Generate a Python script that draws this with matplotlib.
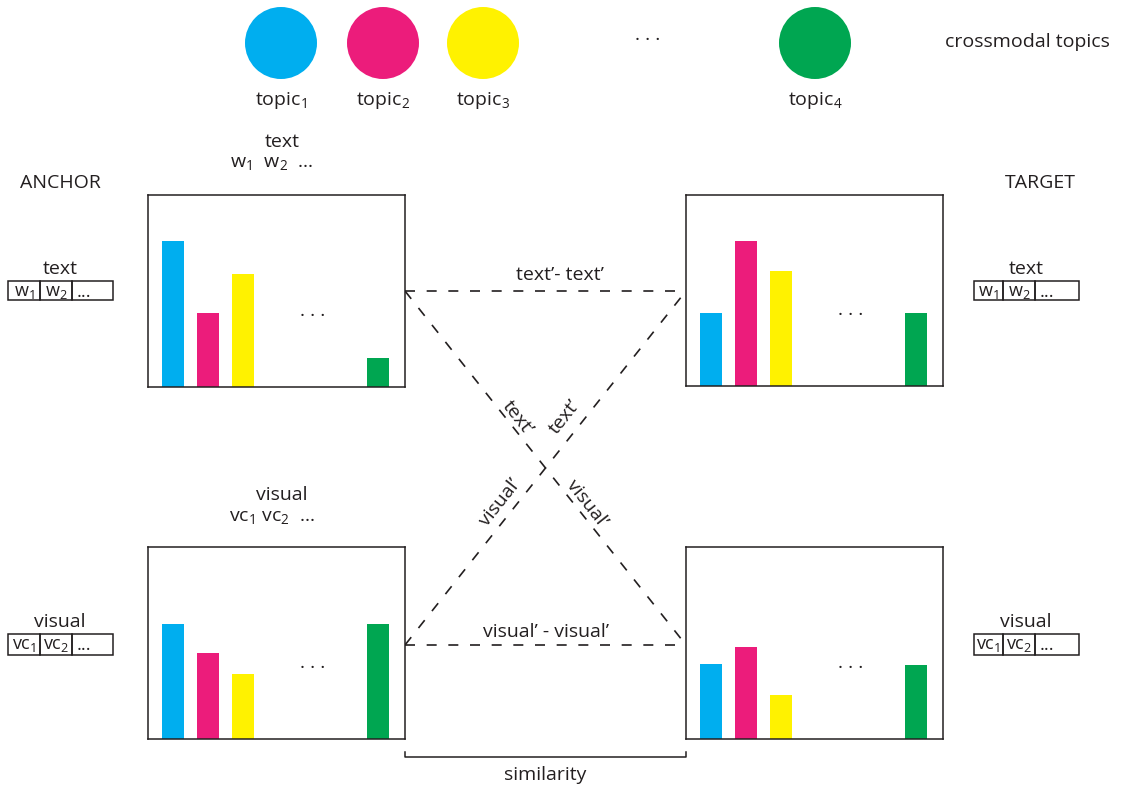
import matplotlib
matplotlib.use('Agg')
import matplotlib.pyplot as plt
from matplotlib.patches import Rectangle, Circle

plt.rcParams['font.family'] = ['Open Sans', 'DejaVu Sans']
plt.rcParams['mathtext.fontset'] = 'custom'
plt.rcParams['mathtext.rm'] = 'Open Sans'
plt.rcParams['text.color'] = '#231F20'

# topic colours and labels
topic_colors = ['#00AEEF', '#EC1C7B', '#FFF200', '#00A651']
topic_labels = [r'topic$\mathregular{_1}$', r'topic$\mathregular{_2}$',
                r'topic$\mathregular{_3}$', r'topic$\mathregular{_4}$']

# topic distributions (fraction of panel height)
anchor_text = [0.76, 0.385, 0.59, 0.15]
target_text = [0.38, 0.76, 0.60, 0.38]
anchor_visual = [0.60, 0.45, 0.34, 0.60]
target_visual = [0.39, 0.48, 0.23, 0.385]

W, H = 1121, 789
fig = plt.figure(figsize=(W / 100, H / 100), dpi=100)
ax = fig.add_axes([0, 0, 1, 1])
ax.set_xlim(0, W)
ax.set_ylim(H, 0)
ax.axis('off')

FS = 14
LW = 1.1
INK = '#231F20'


def panel(x0, y0, x1, y1, vals):
    a = fig.add_axes([x0 / W, 1 - y1 / H, (x1 - x0) / W, (y1 - y0) / H])
    a.bar([0, 1.02, 2.05, 6], vals, width=0.64, color=topic_colors)
    a.set_xlim(-0.73, 6.79)
    a.set_ylim(0, 1)
    a.set_xticks([])
    a.set_yticks([])
    for s in a.spines.values():
        s.set_linewidth(LW)
        s.set_color(INK)
    a.text(4.1, 0.37, '· · ·', ha='center', va='center', fontsize=FS)


panel(148, 195, 405, 387, anchor_text)
panel(686, 195, 943, 386, target_text)
panel(148, 547, 405, 739, anchor_visual)
panel(686, 547, 943, 739, target_visual)

# topic circles
for cx, col, lab in zip([281, 383, 483, 815], topic_colors, topic_labels):
    ax.add_patch(Circle((cx, 43), 36, color=col, lw=0))
    ax.text(cx, 100, lab, ha='center', va='center', fontsize=FS)
ax.text(648, 40, '· · ·', ha='center', va='center', fontsize=FS)
ax.text(1027, 42, 'crossmodal topics', ha='center', va='center', fontsize=FS)

ax.text(60, 183, 'ANCHOR', ha='center', va='center', fontsize=FS)
ax.text(1040, 183, 'TARGET', ha='center', va='center', fontsize=FS)

ax.text(282, 142, 'text', ha='center', va='center', fontsize=FS)
ax.text(272, 163, r'w$\mathregular{_1}$  w$\mathregular{_2}$  ...', ha='center', va='center', fontsize=FS)
ax.text(282, 495, 'visual', ha='center', va='center', fontsize=FS)
ax.text(272, 517, r'vc$\mathregular{_1}$ vc$\mathregular{_2}$  ...', ha='center', va='center', fontsize=FS)


def cells(x_edges, y0, y1, labels, title, tx):
    ax.text(tx, y0 - 12, title, ha='center', va='center', fontsize=FS)
    for i in range(3):
        ax.add_patch(Rectangle((x_edges[i], y0), x_edges[i + 1] - x_edges[i], y1 - y0,
                               fill=False, lw=LW, ec=INK))
        xs = (x_edges[i] + x_edges[i + 1]) / 2 if i < 2 else x_edges[i] + 12
        ax.text(xs, (y0 + y1) / 2 + 1, labels[i], ha='center', va='center', fontsize=FS - 1)


w_lab = [r'w$\mathregular{_1}$', r'w$\mathregular{_2}$', '...']
vc_lab = [r'vc$\mathregular{_1}$', r'vc$\mathregular{_2}$', '...']
cells([8, 40, 72, 113], 281, 300, w_lab, 'text', 60)
cells([974, 1003, 1035, 1079], 281, 300, w_lab, 'text', 1026)
cells([8, 40, 72, 113], 634, 655, vc_lab, 'visual', 60)
cells([974, 1003, 1035, 1079], 634, 655, vc_lab, 'visual', 1026)

# dashed connections
ls = (0, (6, 7))
dl = 1.2
ax.plot([405, 686], [291, 291], color=INK, lw=dl, ls=ls)
ax.plot([405, 686], [645, 645], color=INK, lw=dl, ls=ls)
ax.plot([405, 686], [291, 645], color=INK, lw=dl, ls=ls)
ax.plot([405, 686], [645, 291], color=INK, lw=dl, ls=ls)

ax.text(560, 275, 'text\u2019- text\u2019', ha='center', va='center', fontsize=FS)
ax.text(546, 632, 'visual\u2019 - visual\u2019', ha='center', va='center', fontsize=FS)
ax.text(518, 418, 'text\u2019', ha='center', va='center', fontsize=FS, rotation=-51.6)
ax.text(565, 417, 'text\u2019', ha='center', va='center', fontsize=FS, rotation=51.6)
ax.text(500, 502, 'visual\u2019', ha='center', va='center', fontsize=FS, rotation=51.6)
ax.text(587, 503, 'visual\u2019', ha='center', va='center', fontsize=FS, rotation=-51.6)

# similarity bracket
ax.plot([405, 405, 686, 686], [752, 757, 757, 752], color=INK, lw=LW)
ax.text(545, 775, 'similarity', ha='center', va='center', fontsize=FS)

fig.savefig('out.png', dpi=100)
